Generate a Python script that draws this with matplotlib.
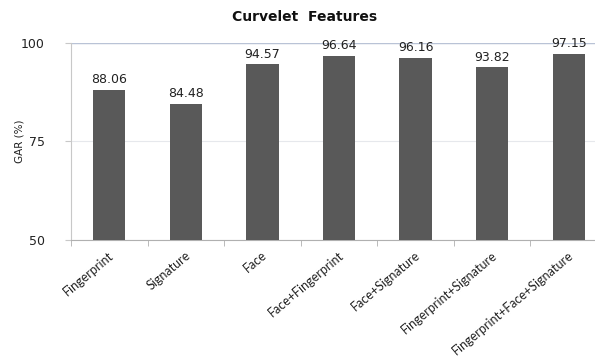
import matplotlib
matplotlib.use("Agg")
import matplotlib.pyplot as plt
import matplotlib.transforms as mtransforms
import numpy as np

categories = ["Fingerprint", "Signature", "Face", "Face+Fingerprint",
              "Face+Signature", "Fingerprint+Signature",
              "Fingerprint+Face+Signature"]
gar = [88.06, 84.48, 94.57, 96.64, 96.16, 93.82, 97.15]
y_ticks = [50, 75, 100]

W, H = 595, 356
fig = plt.figure(figsize=(W / 100, H / 100), dpi=100)
# plot area runs slightly past the right edge of the figure
left, right, top, bottom = 71, 607, 42.7, 240
ax = fig.add_axes([left / W, 1 - bottom / H, (right - left) / W, (bottom - top) / H])

x = np.arange(len(categories))
ax.bar(x, gar, width=0.42, color="#595959", zorder=3)

ax.set_xlim(-0.5, len(categories) - 0.5)
ax.set_ylim(50, 100)
ax.set_yticks(y_ticks)
ax.set_yticklabels([str(t) for t in y_ticks], fontsize=9, color="#222222")
ax.yaxis.grid(True, color="#e6e8ec", linewidth=0.8, zorder=0)
ax.axhline(100, color="#b9c3d6", linewidth=1.0, zorder=2)

for s in ["top", "right"]:
    ax.spines[s].set_visible(False)
ax.spines["left"].set_color("#c8c8c8")
ax.spines["bottom"].set_color("#b0b0b0")

# category boundary ticks on the x axis
ax.set_xticks(np.arange(len(categories) + 1) - 0.5, minor=True)
ax.set_xticks(x)
ax.tick_params(axis="x", which="major", length=0, pad=3)
ax.tick_params(axis="x", which="minor", length=4, color="#b0b0b0", direction="out")
ax.tick_params(axis="y", length=4, color="#c8c8c8", direction="out", pad=15)
ax.set_xticklabels(categories, rotation=40, ha="right", rotation_mode="anchor",
                   fontsize=9, family="Lato", color="#222222")
shift = mtransforms.ScaledTranslation(-1 / 100, -5 / 100, fig.dpi_scale_trans)
for lbl in ax.get_xticklabels():
    lbl.set_transform(lbl.get_transform() + shift)

for xi, v in zip(x, gar):
    ax.annotate(f"{v:.2f}", (xi, v), xytext=(0, 2.5), textcoords="offset points",
                ha="center", va="bottom", fontsize=9, color="#222222")

ax.set_ylabel("GAR (%)", fontsize=7.5, color="#222222")
ax.yaxis.set_label_coords((25 - left) / (right - left), 0.5)

fig.text(305 / W, 1 - 17 / H, "Curvelet  Features", ha="center", va="center",
         fontsize=10, fontweight="bold", color="#111111")

fig.savefig("out.png", dpi=100)
